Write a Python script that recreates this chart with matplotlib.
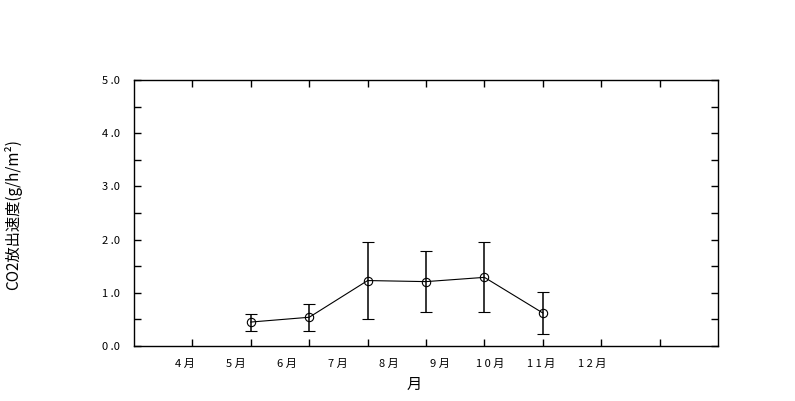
import matplotlib
matplotlib.use("Agg")
import matplotlib.pyplot as plt
import numpy as np

plt.rcParams['font.family'] = ['Noto Sans CJK JP', 'DejaVu Sans']

# データ（5月〜10月）
tsuki = [5, 6, 7, 8, 9, 10]
co2 = [0.45, 0.54, 1.23, 1.21, 1.29, 0.62]
gosa = [0.16, 0.25, 0.72, 0.57, 0.66, 0.40]

tick_tsuki = [4, 5, 6, 7, 8, 9, 10, 11, 12]
tick_label = ['4 月', '5 月', '6 月', '7 月', '8 月', '9 月', '1 0 月', '1 1 月', '1 2 月']
y_ticks = [0, 1, 2, 3, 4, 5]
y_label = ['0 .0', '1 .0', '2 .0', '3 .0', '4 .0', '5 .0']

fig = plt.figure(figsize=(7.95, 4.01), dpi=100)
ax = fig.add_axes([0.1686, 0.1372, 0.7346, 0.6633])

ax.errorbar(tsuki, co2, yerr=gosa, color='k', lw=0.8, elinewidth=1.1,
            capsize=4, capthick=1.1, marker='o', ms=6, mfc='none', mec='k', mew=0.8)

ax.set_xlim(3, 13)
ax.set_ylim(0, 5)
ax.set_xticks(tick_tsuki)
ax.set_xticklabels([])
ax.set_yticks(y_ticks)
ax.set_yticklabels(y_label, fontsize=8)
ax.set_yticks(np.arange(0.5, 5, 1), minor=True)
ax.tick_params(which='both', direction='in', top=True, right=True, length=5, width=1)
ax.tick_params(axis='y', pad=10)
for s in ax.spines.values():
    s.set_linewidth(1)

# 月のラベル（元の図では目盛りと少しずれている）
haba = 0.8716
for i, lab in enumerate(tick_label):
    ax.text(3.873 + haba * i, -0.33, lab, ha='center', va='center', fontsize=8)

ax.text(0.48, -0.145, '月', transform=ax.transAxes, ha='center', va='center', fontsize=11)
fig.text(0.016, 0.464, 'CO2放出速度(g/h/m²)', rotation=90, ha='center', va='center', fontsize=11)

fig.savefig('out.png', dpi=100)
